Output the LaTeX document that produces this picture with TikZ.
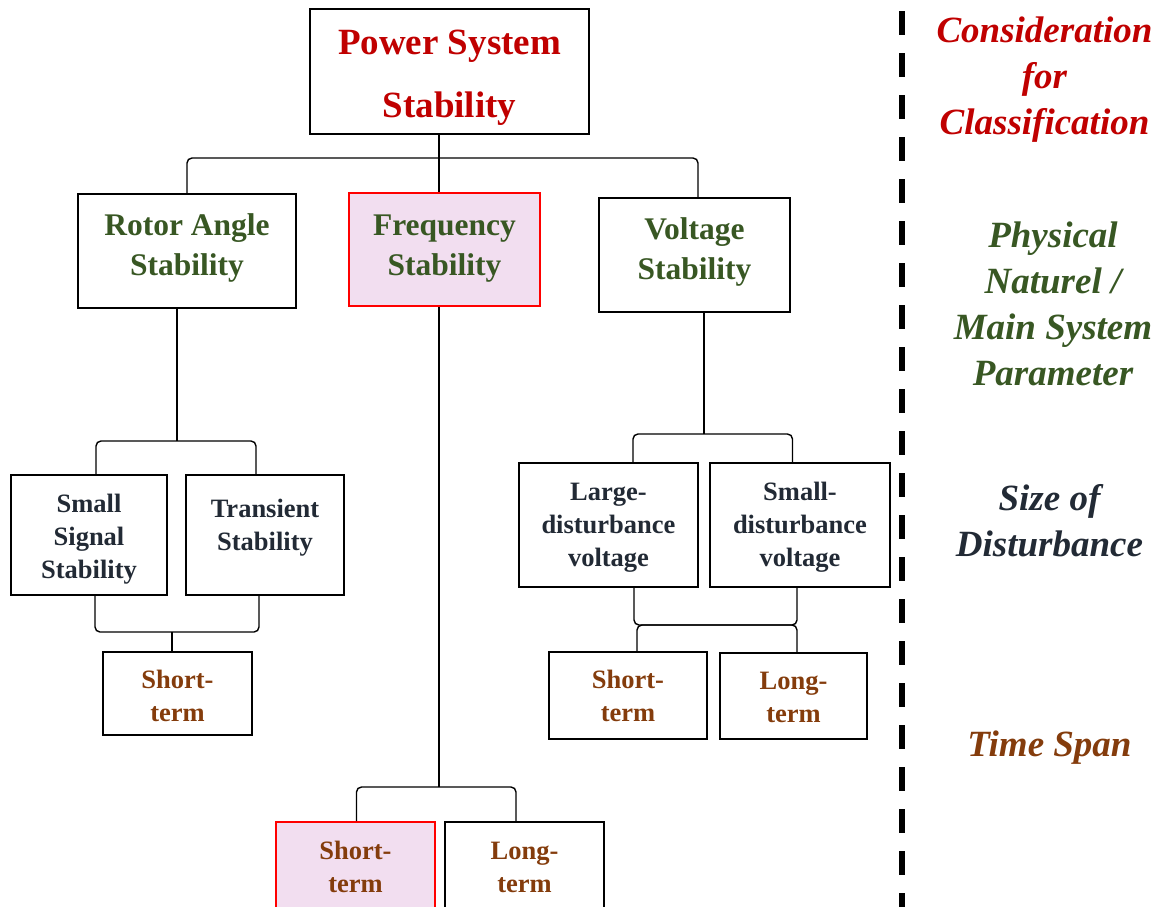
\documentclass[tikz,border=0pt]{standalone}
\usepackage{fontspec}
\setmainfont{Liberation Serif}
\definecolor{cred}{RGB}{192,0,0}
\definecolor{cgreen}{RGB}{56,87,35}
\definecolor{cnavy}{RGB}{34,42,53}
\definecolor{cbrown}{RGB}{132,60,12}
\definecolor{pinkfill}{RGB}{242,222,240}
\begin{document}
\begin{tikzpicture}[x=1pt,y=-1pt,
  box/.style={draw=black, line width=2pt, fill=white, inner sep=0pt},
  hibox/.style={draw=red, line width=2pt, fill=pinkfill, inner sep=0pt},
  conn/.style={draw=black, line width=1.4pt, rounded corners=5pt},
  bigtxt/.style={font=\fontsize{37}{63}\selectfont\bfseries, align=center, inner sep=0pt},
  midtxt/.style={font=\fontsize{31.5}{40}\selectfont\bfseries, align=center, inner sep=0pt},
  smtxt/.style={font=\fontsize{26.5}{33}\selectfont\bfseries, align=center, inner sep=0pt},
  sidetxt/.style={font=\fontsize{37}{46}\selectfont\bfseries\itshape, align=center, inner sep=0pt},
  divider/.style={line width=6.5pt, dash pattern=on 24pt off 18pt}
]
\useasboundingbox (0,0) rectangle (1163,906);
\clip (0,0) rectangle (1163,906);

% boxes
\node[box, minimum width=279, minimum height=125] (power) at (449.5,71.5) {};
\node[box, minimum width=218, minimum height=114] (rotor) at (187,251) {};
\node[hibox, minimum width=191, minimum height=113] (freq) at (444.5,249.5) {};
\node[box, minimum width=191, minimum height=114] (volt) at (694.5,255) {};
\node[box, minimum width=156, minimum height=120] (ssig) at (89,535) {};
\node[box, minimum width=158, minimum height=120] (trans) at (265,535) {};
\node[box, minimum width=149, minimum height=83] (stl) at (177.5,693.5) {};
\node[box, minimum width=179, minimum height=124] (large) at (608.5,525) {};
\node[box, minimum width=180, minimum height=124] (sdv) at (800,525) {};
\node[box, minimum width=158, minimum height=87] (str) at (628,695.5) {};
\node[box, minimum width=147, minimum height=86] (ltr) at (793.5,696) {};
\node[hibox, minimum width=159, minimum height=168] (stb) at (355.5,906) {};
\node[box, minimum width=159, minimum height=168] (ltb) at (524.5,906) {};

% box texts
\node[bigtxt, text=cred] (power-t) at (449.5,77.5) {Power System\\Stability};
\node[midtxt, text=cgreen] (rotor-t) at (187,248) {Rotor Angle\\Stability};
\node[midtxt, text=cgreen] (freq-t) at (444.5,248.5) {Frequency\\Stability};
\node[midtxt, text=cgreen] (volt-t) at (694.5,252) {Voltage\\Stability};
\node[smtxt, text=cnavy] (ssig-t) at (89,539) {Small\\Signal\\Stability};
\node[smtxt, text=cnavy] (trans-t) at (265,527.5) {Transient\\Stability};
\node[smtxt, text=cnavy] (large-t) at (608.5,527.5) {Large-\\disturbance\\voltage};
\node[smtxt, text=cnavy] (sdv-t) at (800,527.5) {Small-\\disturbance\\voltage};
\node[smtxt, text=cbrown] (stl-t) at (177.5,695.5) {Short-\\term};
\node[smtxt, text=cbrown] (str-t) at (628,695.5) {Short-\\term};
\node[smtxt, text=cbrown] (ltr-t) at (793.5,697.5) {Long-\\term};
\node[smtxt, text=cbrown] (stb-t) at (355.5,866.5) {Short-\\term};
\node[smtxt, text=cbrown] (ltb-t) at (524.5,867) {Long-\\term};

% junction points of the tree
\coordinate (j1) at (439,158);
\coordinate (j2) at (177,441);
\coordinate (j3) at (172,632);
\coordinate (j4) at (704,434);
\coordinate (j5) at (716,625);
\coordinate (j6) at (439,787);

% connectors
\draw[conn] (j1 |- power.south) -- (j1 |- freq.north);
\draw[conn] (rotor.north) |- (j1) -| ([xshift=3.5pt]volt.north);

\draw[conn] (j2 |- rotor.south) -- (j2);
\draw[conn] ([xshift=7pt]ssig.north) |- (j2) -| ([xshift=-9pt]trans.north);

\draw[conn] ([xshift=6pt]ssig.south) |- (j3) -| ([xshift=-6pt]trans.south);
\draw[conn] (j3) -- (j3 |- stl.north);

\draw[conn] (j4 |- volt.south) -- (j4);
\draw[conn] ([xshift=24.5pt]large.north) |- (j4) -| ([xshift=-7.5pt]sdv.north);

\draw[conn] ([xshift=25.5pt]large.south) |- (j5) -| ([xshift=-3pt]sdv.south);
\draw[conn] ([xshift=9pt]str.north) |- (j5) -| ([xshift=3.5pt]ltr.north);

\draw[conn] (j6 |- freq.south) -- (j6);
\draw[conn] ([xshift=1pt]stb.north) |- (j6) -| ([xshift=-8.5pt]ltb.north);

% dashed divider
\coordinate (divtop) at (902,11);
\coordinate (divbot) at (902,930);
\draw[divider] (divtop) -- (divbot);

% classification labels
\node[sidetxt, text=cred] (lab-class) at (1044.5,80) {Consideration\\for\\Classification};
\node[sidetxt, text=cgreen] (lab-phys) at (1053,303.5) {Physical\\Naturel /\\Main System\\Parameter};
\node[sidetxt, text=cnavy] (lab-size) at (1049.5,520.5) {Size of\\Disturbance};
\node[sidetxt, text=cbrown] (lab-time) at (1049.5,748) {Time Span};
\end{tikzpicture}
\end{document}
